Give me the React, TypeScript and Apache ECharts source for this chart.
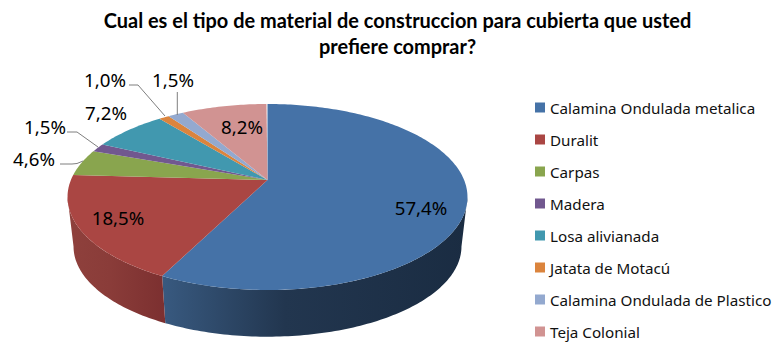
import React, { useEffect, useRef } from "react";
import * as echarts from "echarts";

const categories = [
  "Calamina Ondulada metalica",
  "Duralit",
  "Carpas",
  "Madera",
  "Losa alivianada",
  "Jatata de Motacú",
  "Calamina Ondulada de Plastico",
  "Teja Colonial",
];
const values = [57.4, 18.5, 4.6, 1.5, 7.2, 1.0, 1.5, 8.2];
const colors = ["#4572A7", "#AA4643", "#89A54E", "#71588F", "#4198AF", "#DB843D", "#93A9CF", "#D19392"];
const titleText = "Cual es el tipo de material de construccion para cubierta que usted\nprefiere comprar?";

// Layout of the perspective disc
const CX = 267.5;
const APEX_TOP = 180;
const APEX_BOTTOM = 230;
const A = 196.6;
const B = 89.9;
const P = 0.1827;
const LOWER_SCALE = 0.97;
const FRONT_START = (Math.acos(-P) * 180) / Math.PI;
const FRONT_END = 360 - FRONT_START;

const labelCentres: [number, number][] = [
  [421, 207], [118, 217], [34, 158], [45, 126], [106, 112], [105, 79], [173, 79], [242, 126],
];
const leaders: ([number, number][] | null)[] = [
  null,
  null,
  [[60, 164], [72, 164], [77, 163.5], [83, 161]],
  [[67, 132], [77, 132], [98, 147]],
  null,
  [[129, 85], [138, 85], [165, 116]],
  [[177.3, 92], [177.3, 115]],
  null,
];
const wallGradients: ([number, number, string, string, string] | null)[] = [
  [164, 467, "#38597F", "#22364F", "#1A2C42"],
  [74, 164, "#8E403C", "#8A3C39", "#7C3030"],
  null, null, null, null, null, null,
];

function project(deg: number, apexY: number, scale: number): [number, number] {
  const r = (deg * Math.PI) / 180;
  const u = Math.sin(r);
  const v = -Math.cos(r);
  const d = 1 - P * v;
  return [CX + (scale * A * u) / d, apexY + (scale * B * v) / d];
}

function arcPoints(a0: number, a1: number, apexY: number, scale: number) {
  const pts: [number, number][] = [];
  const n = Math.max(2, Math.ceil(Math.abs(a1 - a0)));
  for (let i = 0; i <= n; i++) pts.push(project(a0 + ((a1 - a0) * i) / n, apexY, scale));
  return pts;
}

const toPath = (pts: [number, number][]) =>
  pts.map((p, i) => `${i ? "L" : "M"}${p[0].toFixed(2)} ${p[1].toFixed(2)}`).join("") + "Z";

const formatPct = (v: number) => `${v.toFixed(1).replace(".", ",")}%`;

function makeRender(index: number) {
  return (_params: any, api: any) => {
    const value = api.value(0);
    const before = api.value(1);
    const a0 = (before / 100) * 360;
    const a1 = ((before + value) / 100) * 360;
    const children: any[] = [];
    const w0 = Math.max(a0, FRONT_START);
    const w1 = Math.min(a1, FRONT_END);
    const grad = wallGradients[index];
    if (w1 > w0 && grad) {
      const pts = [
        ...arcPoints(w0, w1, APEX_TOP, 1),
        ...arcPoints(w1, w0, APEX_BOTTOM, LOWER_SCALE),
      ];
      children.push({
        type: "path",
        shape: { pathData: toPath(pts) },
        style: {
          fill: new echarts.graphic.LinearGradient(
            grad[0], 0, grad[1], 0,
            [
              { offset: 0, color: grad[2] },
              { offset: 0.4, color: grad[3] },
              { offset: 1, color: grad[4] },
            ],
            true
          ),
        },
      });
    }
    children.push({
      type: "path",
      z2: 2,
      shape: { pathData: toPath([[CX, APEX_TOP], ...arcPoints(a0, a1, APEX_TOP, 1)]) },
      style: { fill: colors[index] },
    });
    const lead = leaders[index];
    if (lead) {
      children.push({
        type: "polyline",
        z2: 3,
        shape: { points: lead },
        style: { fill: "none", stroke: "#7F7F7F", lineWidth: 1 },
      });
    }
    const c = labelCentres[index];
    children.push({
      type: "text",
      z2: 4,
      style: {
        text: formatPct(value),
        x: c[0],
        y: c[1],
        align: "center",
        verticalAlign: "middle",
        fill: "#000",
        font: '18.7px "Noto Sans"',
      },
    });
    return { type: "group", children };
  };
}

export default function App() {
  const ref = useRef<HTMLDivElement>(null);
  useEffect(() => {
    document.body.style.margin = "0";
    const chart = echarts.init(ref.current!, undefined, { renderer: "svg" });
    let running = 0;
    const series = categories.map((name, i) => {
      const row = [values[i], running];
      running += values[i];
      return {
        type: "custom",
        name,
        coordinateSystem: "none",
        silent: true,
        itemStyle: { color: colors[i] },
        data: [row],
        renderItem: makeRender(i),
      };
    });
    chart.setOption({
      animation: false,
      backgroundColor: "#fff",
      title: {
        text: titleText,
        left: 392.5,
        top: 2,
        textAlign: "center",
        textStyle: { fontFamily: "Lato", fontWeight: "bold", fontSize: 19.95, lineHeight: 26, color: "#000" },
      },
      legend: {
        orient: "vertical",
        left: 535,
        top: 100,
        padding: 0,
        icon: "rect",
        itemWidth: 10,
        itemHeight: 10,
        itemGap: 17,
        selectedMode: false,
        data: categories,
        textStyle: { fontFamily: "Noto Sans", fontSize: 15.2, color: "#111" },
      },
      series,
    });
    return () => chart.dispose();
  }, []);
  return <div ref={ref} style={{ position: "absolute", left: 0, top: 0, width: 775, height: 342 }} />;
}
